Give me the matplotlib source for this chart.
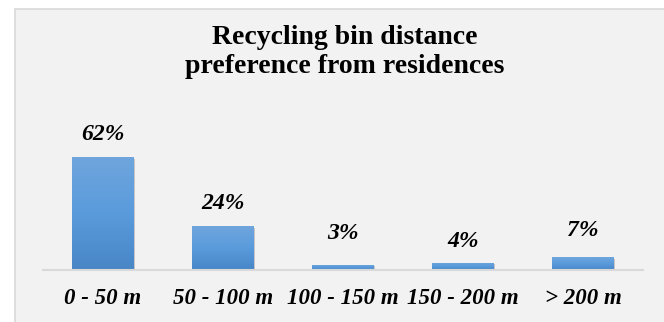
import matplotlib.pyplot as plt
from matplotlib.patches import Rectangle
import numpy as np

# bin distance categories and share of respondents (%)
categories = ['0 - 50 m', '50 - 100 m', '100 - 150 m', '150 - 200 m', '> 200 m']
shares = [62, 24, 3, 4, 7]
label_offsets = [9, 9, 14.5, 7.5, 12]  # points above each bar

fig = plt.figure(figsize=(6.64, 3.22), dpi=100)
fig.patch.set_facecolor('white')

# grey chart area with a thin border
panel = Rectangle((15 / 664, -0.05), 1.0, 1 - 9 / 322 + 0.05, transform=fig.transFigure,
                  facecolor='#f2f2f2', edgecolor='#d9d9d9', linewidth=1.2, zorder=-5)
fig.patches.append(panel)

ax = fig.add_axes([43 / 664, 52 / 322, 600 / 664, 130 / 322])
ax.set_facecolor('none')
x = np.arange(len(categories))
bars = ax.bar(x, shares, width=0.51, color='#5b9bd5', zorder=2)

# vertical gradient and a soft shadow on each bar
grad = np.linspace(0, 1, 100).reshape(-1, 1)
cmap = plt.matplotlib.colors.LinearSegmentedColormap.from_list('bar', ['#4886c6', '#5a9bdc', '#6fa5dc'])
for b in bars:
    x0, w, h = b.get_x(), b.get_width(), b.get_height()
    ax.add_patch(Rectangle((x0 + 0.01, -0.9), w, h, facecolor='#a0a0a0', alpha=0.55,
                           edgecolor='none', zorder=1))
    im = ax.imshow(grad, extent=(x0, x0 + w, 0, h), origin='lower', aspect='auto',
                   cmap=cmap, zorder=2.5)
    im.set_clip_path(b)

for xi, v, off in zip(x, shares, label_offsets):
    ax.annotate(f'{v}%', (xi, v), xytext=(0, off), textcoords='offset points',
                ha='center', va='bottom', fontsize=17, fontweight='bold', fontstyle='italic',
                family='Liberation Serif')

ax.set_xlim(-0.5, 4.5)
ax.set_ylim(0, 130 / 1.82)
ax.set_xticks(x)
ax.set_xticklabels(categories, fontsize=16.5, fontweight='bold', fontstyle='italic',
                   family='Liberation Serif')
ax.tick_params(axis='x', length=0, pad=13)
ax.set_yticks([])
for s in ['top', 'right', 'left']:
    ax.spines[s].set_visible(False)
ax.spines['bottom'].set_color('#d9d9d9')
ax.spines['bottom'].set_linewidth(1.5)
ax.spines['bottom'].set_zorder(3)

fig.text(345 / 664, 1 - 52 / 322, 'Recycling bin distance\npreference from residences',
         ha='center', va='center', fontsize=20, fontweight='bold', family='Liberation Serif',
         linespacing=1.2)

fig.savefig('out.png', dpi=100)
